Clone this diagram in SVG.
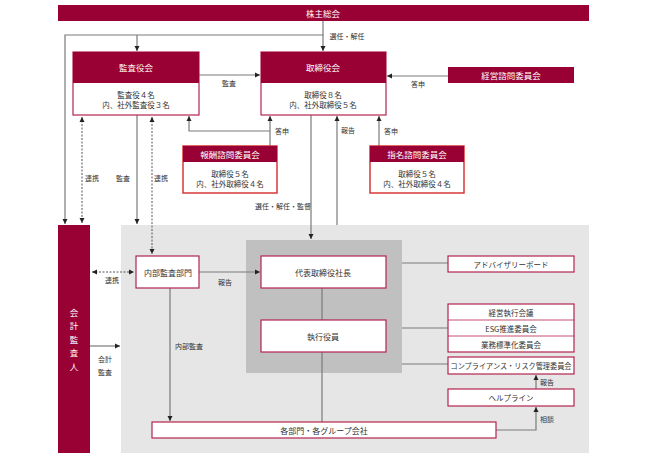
<svg xmlns="http://www.w3.org/2000/svg" width="653" height="455" viewBox="0 0 653 455">
<defs>
<marker id="ah" markerWidth="6" markerHeight="6" refX="5" refY="3" orient="auto" markerUnits="userSpaceOnUse">
<path d="M0,0.5 L5,3 L0,5.5 Z" fill="#222"/>
</marker>
<marker id="as" markerWidth="6" markerHeight="6" refX="1" refY="3" orient="auto" markerUnits="userSpaceOnUse">
<path d="M6,0.5 L1,3 L6,5.5 Z" fill="#222"/>
</marker>
</defs>
<style>
text{font-family:"Noto Sans CJK JP","Noto Sans CJK SC",sans-serif;text-anchor:middle;dominant-baseline:central;}
.hd{fill:#990033;}
.hdt{fill:#fff;font-size:8.5px;}
.wb{fill:#fff;stroke:#b5234f;stroke-width:1.2;}
.rb{fill:#fff;stroke:#d42a2a;stroke-width:1.4;}
.bt{fill:#333;font-size:7.5px;}
.lb{fill:#333;font-size:7px;}
.ln{fill:none;stroke:#7a7a7a;stroke-width:1.2;}
.lnh{fill:none;stroke:#7a7a7a;stroke-width:1.2;marker-end:url(#ah);}
.dash{fill:none;stroke:#444;stroke-width:0.9;stroke-dasharray:2,1.5;marker-end:url(#ah);marker-start:url(#as);}
</style>
<rect x="121" y="225" width="468" height="228" fill="#e6e6e6"/>
<rect x="246" y="240" width="156" height="133" fill="#c0c0c0"/>

<g id="shareholders">
<rect x="58" y="5" width="531" height="16" class="hd"/>
<text x="323" y="13" class="hdt">株主総会</text>
</g>

<g id="connectors">
<polyline points="323,21 323,35 65,35 65,224" class="lnh"/>
<line x1="323" y1="35" x2="323" y2="51" class="lnh"/>
<line x1="137" y1="35" x2="137" y2="51" class="lnh"/>
<line x1="199" y1="75" x2="260" y2="75" class="lnh"/>
<line x1="448" y1="76" x2="387" y2="76" class="lnh"/>
<line x1="270" y1="146" x2="270" y2="116" class="lnh"/>
<polyline points="270,131 189,131 189,116" class="lnh"/>
<line x1="379" y1="146" x2="379" y2="116" class="lnh"/>
<line x1="337" y1="225" x2="337" y2="116" class="lnh"/>
<line x1="311" y1="115" x2="311" y2="239" class="lnh"/>
<line x1="82" y1="117" x2="82" y2="223" class="dash"/>
<line x1="137" y1="115" x2="137" y2="224" class="lnh"/>
<line x1="152" y1="117" x2="152" y2="254" class="dash"/>
<line x1="92" y1="272" x2="134" y2="272" class="dash"/>
<line x1="199" y1="272" x2="260" y2="272" class="lnh"/>
<line x1="322" y1="288" x2="322" y2="320" class="ln"/>
<line x1="322" y1="352" x2="322" y2="422" class="ln"/>
<line x1="170" y1="288" x2="170" y2="421" class="lnh"/>
<line x1="90" y1="346" x2="120" y2="346" class="lnh"/>
<line x1="402" y1="263" x2="448" y2="263" class="ln"/>
<line x1="402" y1="328" x2="448" y2="328" class="ln"/>
<line x1="402" y1="364" x2="448" y2="364" class="ln"/>
<line x1="536" y1="389" x2="536" y2="375" class="lnh"/>
<polyline points="496,430 536,430 536,407" class="lnh"/>
<text x="347" y="36" class="lb">選任・解任</text>
<text x="229" y="83" class="lb">監査</text>
<text x="418" y="84" class="lb">答申</text>
<text x="282" y="131" class="lb">答申</text>
<text x="391" y="131" class="lb">答申</text>
<text x="348" y="130" class="lb">報告</text>
<text x="283" y="206" class="lb">選任・解任・監督</text>
<text x="92" y="178" class="lb">連携</text>
<text x="123" y="178" class="lb">監査</text>
<text x="161" y="178" class="lb">連携</text>
<text x="112" y="280" class="lb">連携</text>
<text x="225" y="282" class="lb">報告</text>
<text x="189" y="346" class="lb">内部監査</text>
<text x="105" y="359" class="lb">会計</text>
<text x="105" y="372" class="lb">監査</text>
<text x="547" y="382" class="lb">報告</text>
<text x="547" y="419" class="lb">相談</text>
</g>

<g id="kansayakukai">
<rect x="73" y="52" width="126" height="63" class="wb"/>
<rect x="73" y="52" width="126" height="31" class="hd"/>
<text x="136" y="67" class="hdt">監査役会</text>
<text x="136" y="94" class="bt">監査役４名</text>
<text x="136" y="104" class="bt">内、社外監査役３名</text>
</g>

<g id="torishimariyakukai">
<rect x="261" y="52" width="125" height="63" class="wb"/>
<rect x="261" y="52" width="125" height="31" class="hd"/>
<text x="323" y="67" class="hdt">取締役会</text>
<text x="323" y="94" class="bt">取締役８名</text>
<text x="323" y="104" class="bt">内、社外取締役５名</text>
</g>

<g id="keiei-shimon">
<rect x="448" y="67" width="126" height="16" class="hd"/>
<text x="511" y="75" class="hdt">経営諮問委員会</text>
</g>

<g id="hoshu-shimon">
<rect x="183" y="146" width="94" height="47" class="rb"/>
<rect x="183" y="146" width="94" height="16" class="hd"/>
<text x="230" y="154" class="hdt">報酬諮問委員会</text>
<text x="230" y="173" class="bt">取締役５名</text>
<text x="230" y="183" class="bt">内、社外取締役４名</text>
</g>

<g id="shimei-shimon">
<rect x="370" y="146" width="94" height="47" class="rb"/>
<rect x="370" y="146" width="94" height="16" class="hd"/>
<text x="417" y="154" class="hdt">指名諮問委員会</text>
<text x="417" y="173" class="bt">取締役５名</text>
<text x="417" y="183" class="bt">内、社外取締役４名</text>
</g>

<g id="kaikei-kansanin">
<rect x="58" y="225" width="32" height="228" class="hd"/>
<text x="74" y="312" class="hdt">会</text>
<text x="74" y="325" class="hdt">計</text>
<text x="74" y="339" class="hdt">監</text>
<text x="74" y="352" class="hdt">査</text>
<text x="74" y="366" class="hdt">人</text>
</g>

<g id="naibu-kansa">
<rect x="136" y="256" width="63" height="32" class="wb"/>
<text x="168" y="272" class="bt" style="font-size:8px">内部監査部門</text>
</g>

<g id="daihyo">
<rect x="261" y="256" width="125" height="32" class="wb"/>
<text x="323" y="272" class="bt" style="font-size:8px">代表取締役社長</text>
</g>

<g id="shikko">
<rect x="261" y="320" width="125" height="32" class="wb"/>
<text x="323" y="336" class="bt" style="font-size:8px">執行役員</text>
</g>

<g id="kakubumon">
<rect x="152" y="422" width="344" height="16" class="wb"/>
<text x="324" y="430" class="bt" style="font-size:8px">各部門・各グループ会社</text>
</g>

<g id="advisory">
<rect x="448" y="256" width="126" height="16" class="wb"/>
<text x="511" y="264" class="bt">アドバイザリーボード</text>
</g>

<g id="committees">
<rect x="448" y="304" width="126" height="48" class="wb"/>
<line x1="448" y1="320" x2="574" y2="320" stroke="#b5234f" stroke-width="0.8"/>
<line x1="448" y1="336" x2="574" y2="336" stroke="#b5234f" stroke-width="0.8"/>
<text x="511" y="312" class="bt">経営執行会議</text>
<text x="511" y="328" class="bt">ESG推進委員会</text>
<text x="511" y="344" class="bt">業務標準化委員会</text>
</g>

<g id="compliance">
<rect x="448" y="357" width="126" height="17" class="wb"/>
<text x="511" y="365.5" class="bt" textLength="121" lengthAdjust="spacingAndGlyphs">コンプライアンス・リスク管理委員会</text>
</g>

<g id="helpline">
<rect x="448" y="389" width="126" height="17" class="wb"/>
<text x="511" y="397.5" class="bt">ヘルプライン</text>
</g>
</svg>
